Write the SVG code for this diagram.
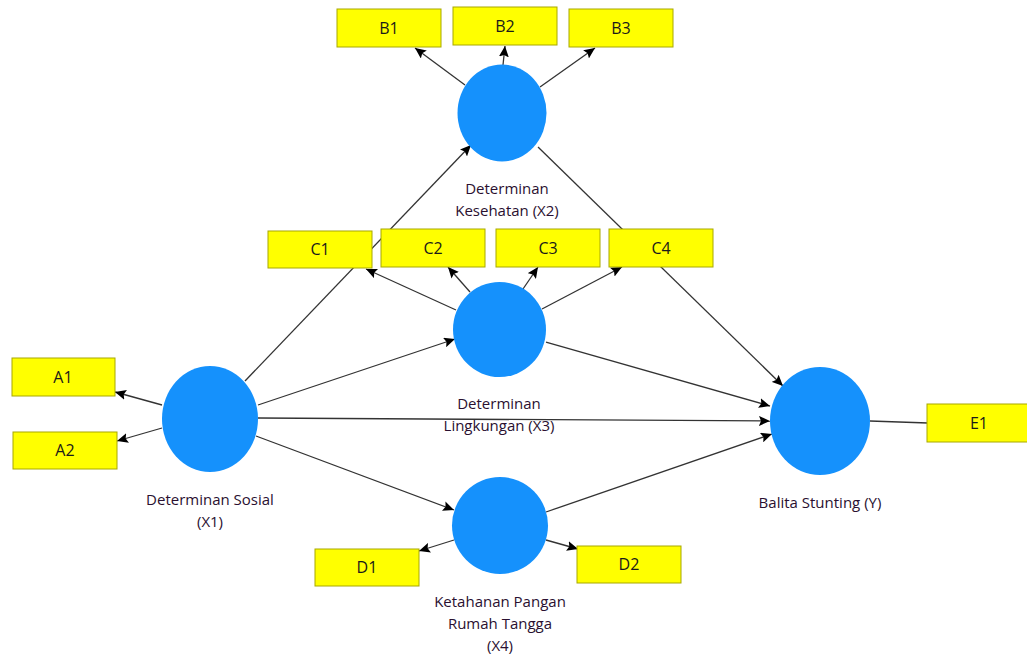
<svg xmlns="http://www.w3.org/2000/svg" width="1027" height="657" viewBox="0 0 1027 657">
<defs>
<style>
.lv{fill:#1591fc;}
.mv rect{fill:#ffff00;stroke:#a8a800;stroke-width:1;}
.mv text{font-family:"Open Sans","DejaVu Sans",sans-serif;font-size:16px;fill:#1a1a1a;text-anchor:middle;}
.lbl{font-family:"Open Sans","DejaVu Sans",sans-serif;font-size:15px;fill:#2a1030;text-anchor:middle;}
#connectors line{stroke:#333;stroke-width:1.3;fill:none;}
.arr{marker-end:url(#ah);}
</style>
<marker id="ah" viewBox="0 0 11 10" refX="11" refY="5" markerWidth="11" markerHeight="10" markerUnits="userSpaceOnUse" orient="auto">
<path d="M0,0 L11,5 L0,10 L2,5 z" fill="#000"/>
</marker>
</defs>
<rect width="1027" height="657" fill="#fff"/>
<g id="connectors">
<line class="arr" x1="465" y1="85" x2="415" y2="48"/>
<line class="arr" x1="503" y1="65" x2="505" y2="46"/>
<line class="arr" x1="540" y1="87" x2="595" y2="48"/>
<line class="arr" x1="245" y1="381" x2="471" y2="145"/>
<line class="arr" x1="538" y1="147" x2="783" y2="386"/>
<line class="arr" x1="456" y1="310" x2="366" y2="269"/>
<line class="arr" x1="470" y1="292" x2="448" y2="267"/>
<line class="arr" x1="523" y1="289" x2="538" y2="267"/>
<line class="arr" x1="542" y1="309" x2="622" y2="267"/>
<line class="arr" x1="258" y1="405" x2="455" y2="339"/>
<line class="arr" x1="546" y1="342" x2="770" y2="406"/>
<line class="arr" x1="258" y1="418" x2="770" y2="421"/>
<line class="arr" x1="256" y1="436" x2="454" y2="510"/>
<line class="arr" x1="546" y1="512" x2="772" y2="434"/>
<line class="arr" x1="454" y1="540" x2="419" y2="551"/>
<line class="arr" x1="546" y1="540" x2="578" y2="549"/>
<line class="arr" x1="162" y1="405" x2="115" y2="392"/>
<line class="arr" x1="162" y1="428" x2="117" y2="441"/>
<line x1="870" y1="421" x2="928" y2="423"/>
</g>
<g id="X2"><ellipse class="lv" cx="502" cy="113" rx="44.5" ry="48.5"/>
<text class="lbl" x="507" y="194">Determinan</text><text class="lbl" x="507" y="216">Kesehatan (X2)</text></g>
<g id="X1"><ellipse class="lv" cx="210" cy="419" rx="48" ry="53"/>
<text class="lbl" x="210" y="505">Determinan Sosial</text><text class="lbl" x="210" y="527">(X1)</text></g>
<g id="X3"><ellipse class="lv" cx="499.5" cy="329.5" rx="46.5" ry="47.5"/>
<text class="lbl" x="499" y="409">Determinan</text><text class="lbl" x="499" y="431">Lingkungan (X3)</text></g>
<g id="X4"><ellipse class="lv" cx="500" cy="525.5" rx="48" ry="48.5"/>
<text class="lbl" x="500" y="607">Ketahanan Pangan</text><text class="lbl" x="500" y="629">Rumah Tangga</text><text class="lbl" x="500" y="651">(X4)</text></g>
<g id="Y"><ellipse class="lv" cx="820" cy="421" rx="50" ry="54"/>
<text class="lbl" x="820" y="508">Balita Stunting (Y)</text></g>
<g id="B1" class="mv"><rect x="337" y="9" width="104" height="38"/><text x="389" y="34">B1</text></g>
<g id="B2" class="mv"><rect x="453" y="7" width="104" height="38"/><text x="505" y="32">B2</text></g>
<g id="B3" class="mv"><rect x="569" y="9" width="104" height="38"/><text x="621" y="34">B3</text></g>
<g id="C1" class="mv"><rect x="268" y="231" width="104" height="37"/><text x="320" y="255">C1</text></g>
<g id="C2" class="mv"><rect x="381" y="229" width="104" height="38"/><text x="433" y="254">C2</text></g>
<g id="C3" class="mv"><rect x="496" y="229" width="104" height="38"/><text x="548" y="254">C3</text></g>
<g id="C4" class="mv"><rect x="609" y="229" width="104" height="38"/><text x="661" y="254">C4</text></g>
<g id="A1" class="mv"><rect x="12" y="358" width="103" height="38"/><text x="63" y="383">A1</text></g>
<g id="A2" class="mv"><rect x="13" y="432" width="104" height="37"/><text x="65" y="456">A2</text></g>
<g id="D1" class="mv"><rect x="315" y="549" width="104" height="37"/><text x="367" y="573">D1</text></g>
<g id="D2" class="mv"><rect x="577" y="546" width="104" height="37"/><text x="629" y="570">D2</text></g>
<g id="E1" class="mv"><rect x="927" y="404" width="104" height="38"/><text x="979" y="429">E1</text></g>
</svg>
